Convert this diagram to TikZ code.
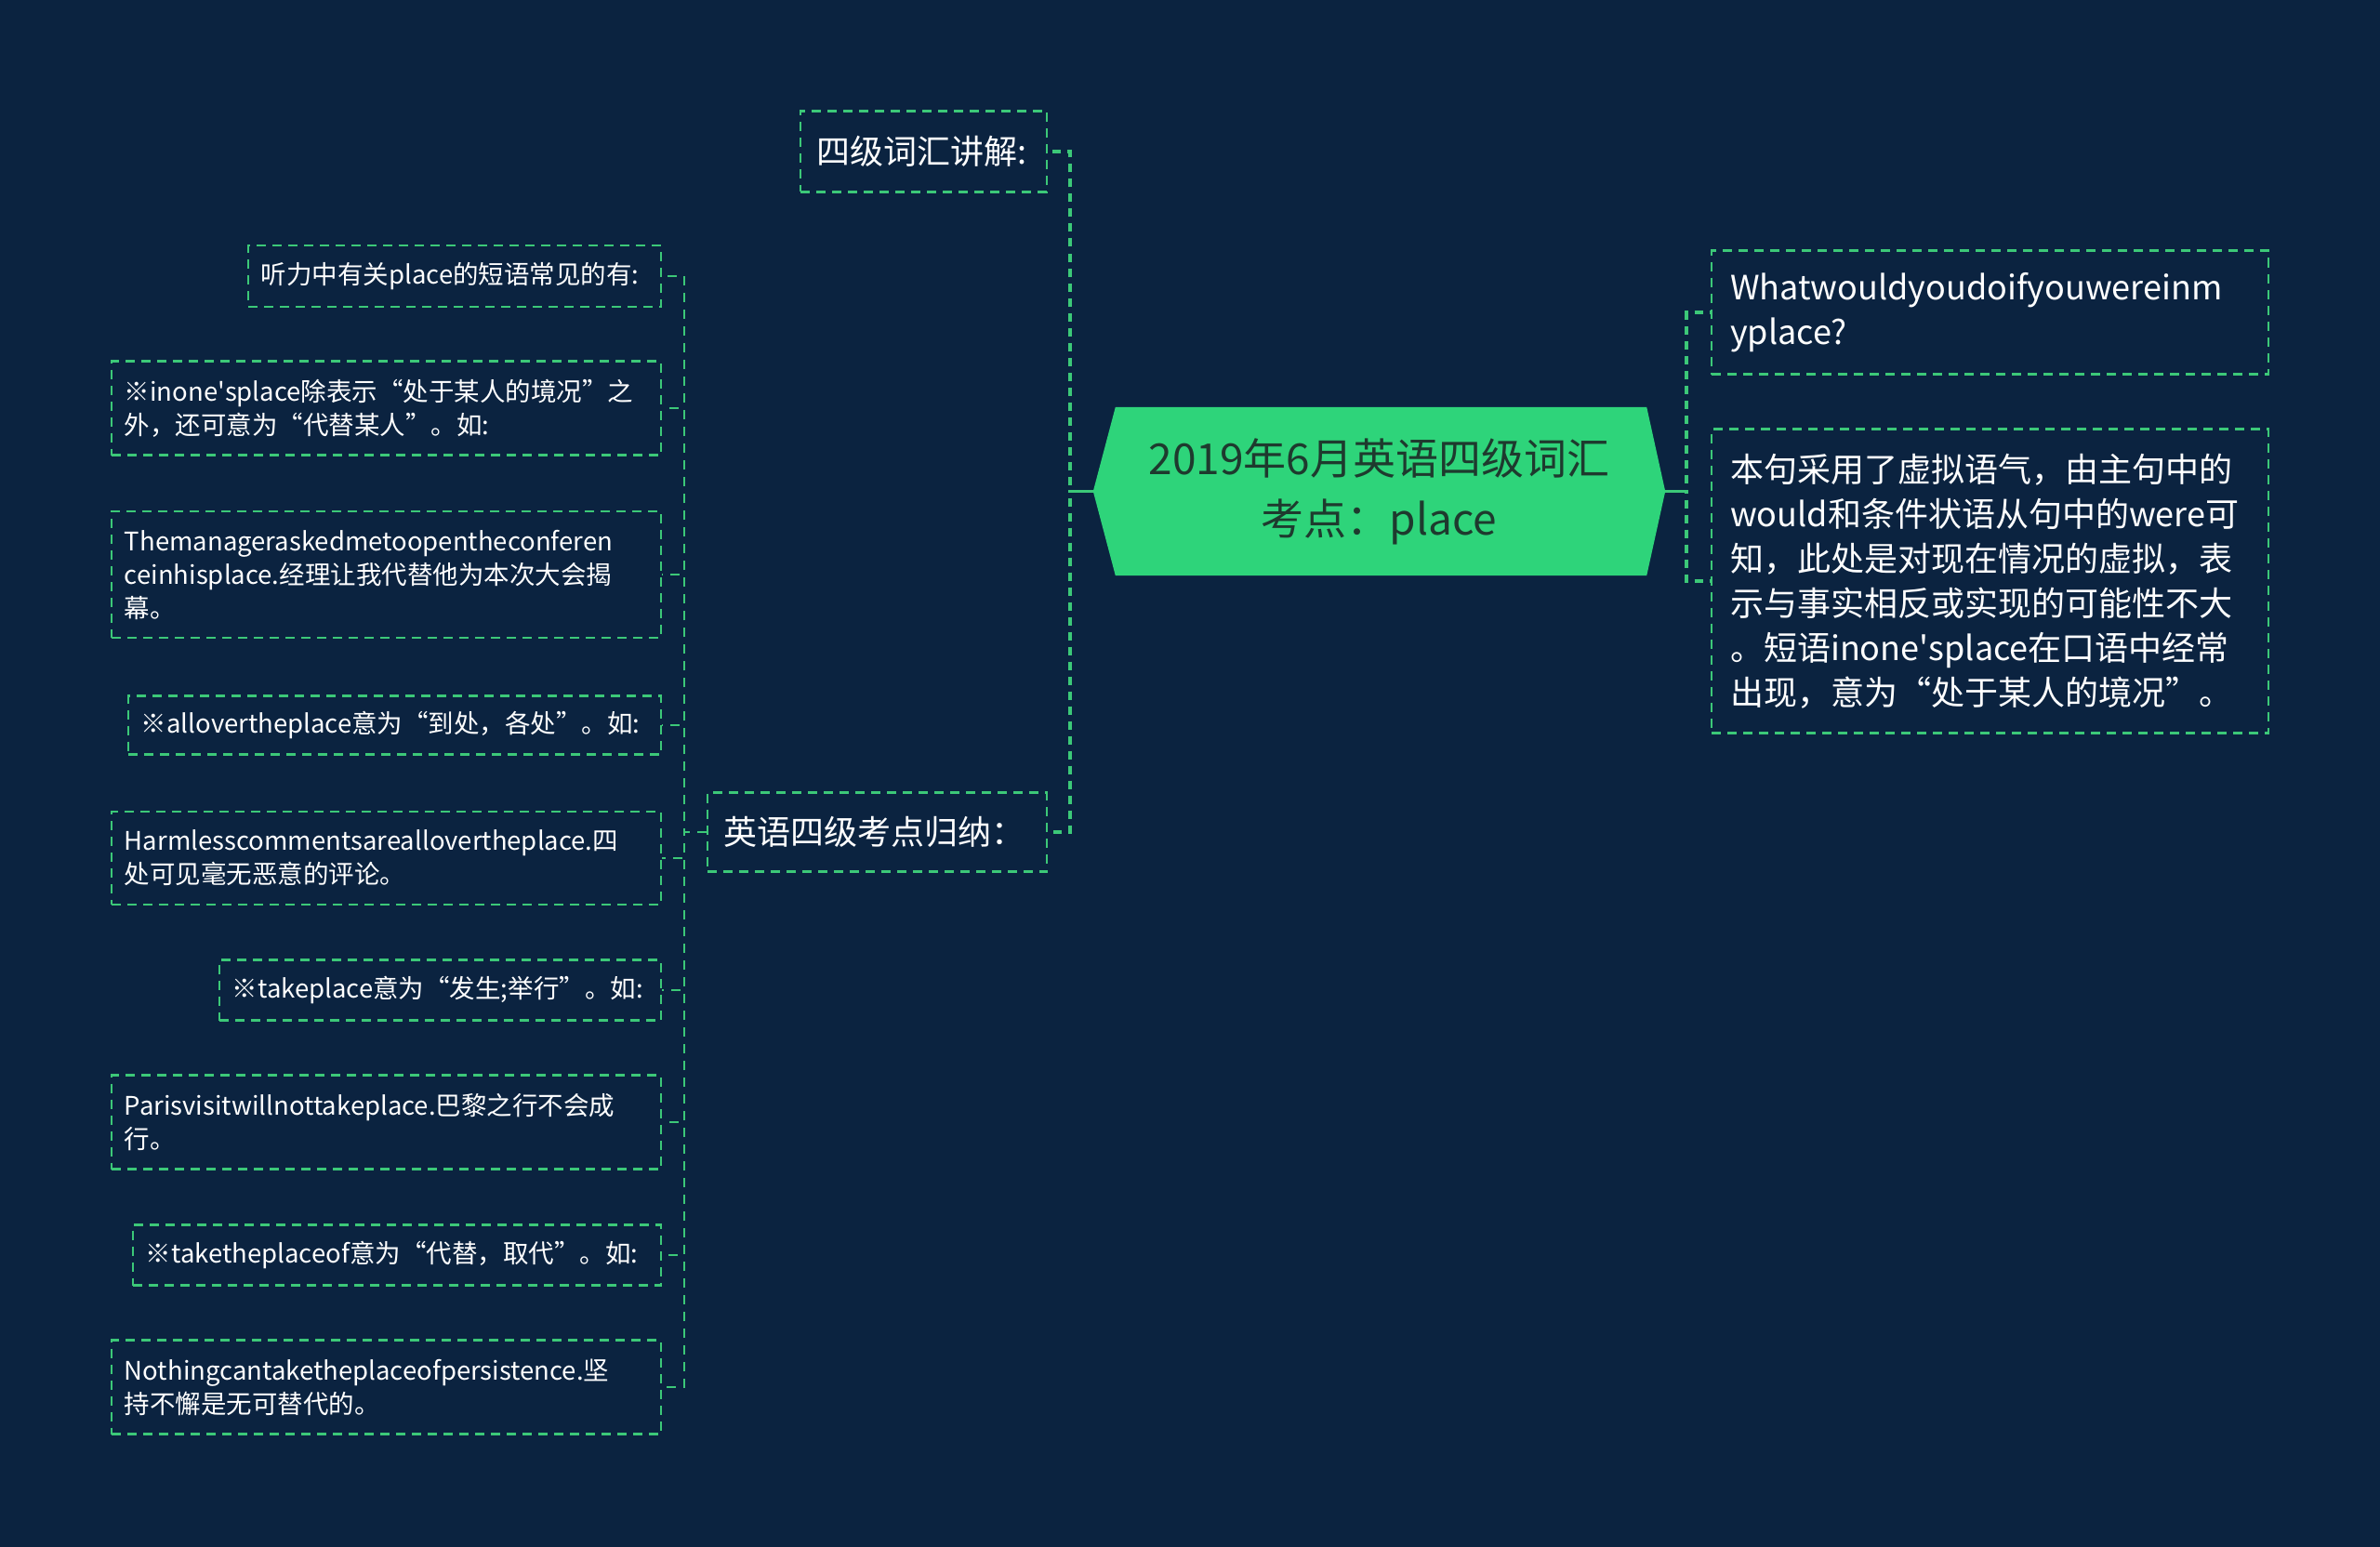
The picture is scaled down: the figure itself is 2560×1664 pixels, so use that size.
\documentclass[tikz,border=0pt]{standalone}
\usepackage{fontspec}
\setmainfont{Noto Sans CJK SC}
\newfontfamily\apfont{Noto Sans CJK SC}
\usetikzlibrary{backgrounds}
\definecolor{bgc}{HTML}{0B2340}
\definecolor{lineg}{HTML}{3CC878}
\definecolor{hexg}{HTML}{2ED47A}
\definecolor{hext}{HTML}{1E3A2E}
\hyphenpenalty=10000
\exhyphenpenalty=10000
\newcommand{\apos}{{\apfont\char39}}
\tikzset{
  box/.style={draw=lineg, dash pattern=on 10pt off 7pt, line width=2.2pt, text=white,
    align=left, inner ysep=0pt, font=\fontsize{27.5}{36}\selectfont},
  leaf/.style={box, anchor=east, inner xsep=14pt},
  hdr/.style={box, anchor=east, inner xsep=18pt, font=\fontsize{36}{44}\selectfont},
  rbox/.style={box, anchor=west, inner xsep=20pt, font=\fontsize{36}{48}\selectfont},
  thin/.style={draw=lineg, dash pattern=on 10pt off 8pt, line width=2.2pt},
  thick/.style={draw=lineg, dash pattern=on 9pt off 7pt, line width=3.8pt},
}
\begin{document}
\begin{tikzpicture}[x=1pt,y=-1pt]
\begin{scope}[on background layer]
\fill[bgc] (0,0) rectangle (2560,1664);
\end{scope}
\useasboundingbox (0,0) rectangle (2560,1664);

% center node
\node[minimum width=615pt, minimum height=181pt, inner sep=0pt, align=center, text=hext,
  font=\fontsize{46}{65}\selectfont] (c) at (1483.5,528.5) {2019年6月英语四级词汇\\考点：place};
\begin{scope}[on background layer]
\fill[hexg] (c.west) -- ([xshift=24pt]c.north west) -- ([xshift=-20pt]c.north east) -- (c.east)
  -- ([xshift=-20pt]c.south east) -- ([xshift=24pt]c.south west) -- cycle;
\end{scope}

% headers
\node[hdr, text width=229pt, minimum height=87pt] (h1) at (1127,163) {四级词汇讲解:};
\node[hdr, text width=329pt, minimum height=85pt] (h2) at (1127,895) {英语四级考点归纳：};

% right boxes
\node[rbox, text width=559pt, minimum height=133pt] (r1) at (1840,336) {Whatwouldyoudoifyouwereinm\\yplace?};
\node[rbox, text width=559pt, minimum height=327pt] (r2) at (1840,625) {本句采用了虚拟语气，由主句中的\\would和条件状语从句中的were可\\知，此处是对现在情况的虚拟，表\\示与事实相反或实现的可能性不大\\。短语inone\apos splace在口语中经常\\出现，意为“处于某人的境况”。};

% leaves
\node[leaf, text width=416pt, minimum height=66pt] (l1) at (712,297) {听力中有关place的短语常见的有:};
\node[leaf, text width=563pt, minimum height=101pt] (l2) at (712,439) {※inone\apos splace除表示“处于某人的境况”之\\外，还可意为“代替某人”。如:};
\node[leaf, text width=563pt, minimum height=136pt] (l3) at (712,618) {Themanageraskedmetoopentheconferen\\ceinhisplace.经理让我代替他为本次大会揭\\幕。};
\node[leaf, text width=545pt, minimum height=63pt] (l4) at (712,780) {※allovertheplace意为“到处，各处”。如:};
\node[leaf, text width=563pt, minimum height=100pt] (l5) at (712,923) {Harmlesscommentsareallovertheplace.四\\处可见毫无恶意的评论。};
\node[leaf, text width=447pt, minimum height=65pt] (l6) at (712,1065) {※takeplace意为“发生;举行”。如:};
\node[leaf, text width=563pt, minimum height=101pt] (l7) at (712,1207) {Parisvisitwillnottakeplace.巴黎之行不会成\\行。};
\node[leaf, text width=540pt, minimum height=65pt] (l8) at (712,1350) {※taketheplaceof意为“代替，取代”。如:};
\node[leaf, text width=563pt, minimum height=101pt] (l9) at (712,1492) {Nothingcantaketheplaceofpersistence.坚\\持不懈是无可替代的。};

% connectors: center to headers
\draw[lineg, line width=3.8pt] (c.west) -- ++(-25,0);
\foreach \n in {h1,h2} \draw[thick] (c.west) -- ++(-25,0) |- (\n.east);
% center to right boxes
\draw[lineg, line width=3.8pt] (c.east) -- ++(23,0);
\foreach \n in {r1,r2} \draw[thick] (c.east) -- ++(23,0) |- (\n.west);
% h2 to leaves
\foreach \n in {l1,l2,l3,l4,l5,l6,l7,l8,l9} \draw[thin] (h2.west) -- ++(-24,0) |- (\n.east);
\end{tikzpicture}
\end{document}
